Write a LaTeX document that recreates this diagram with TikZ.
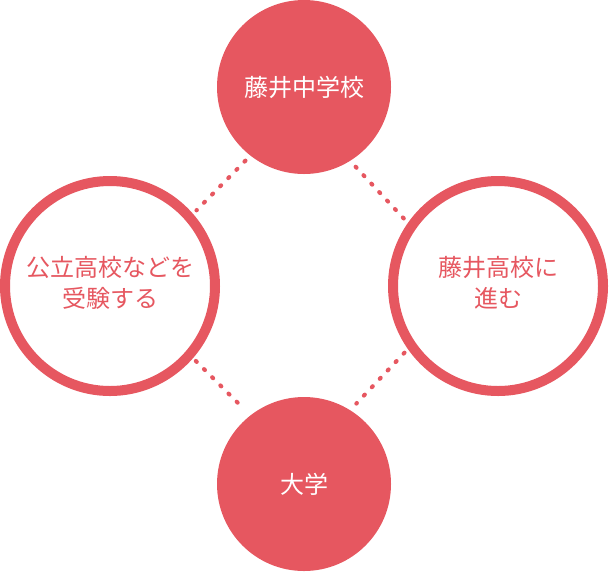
\documentclass[tikz,border=0pt]{standalone}
\usepackage{fontspec}
\newfontfamily\jpfont{Noto Sans CJK JP}
\usepackage{tikz}
\definecolor{sakura}{RGB}{230,87,96}

\begin{document}
\begin{tikzpicture}[
    x=1pt, y=-1pt,
    fullcirc/.style={circle, fill=sakura, minimum size=174pt, inner sep=0pt,
                     text=white, font=\jpfont\fontsize{24}{31}\selectfont, align=center},
    ringcirc/.style={circle, draw=sakura, line width=10pt, fill=white, minimum size=210pt,
                     inner sep=0pt, text=sakura, font=\jpfont\fontsize{24}{31}\selectfont, align=center},
    dotline/.style={draw=sakura, line width=4.2pt, line cap=round, dash pattern=on 1.2pt off 10.35pt}
]
\useasboundingbox (0,0) rectangle (609,571);

% Junior high
\node[fullcirc] (chu) at (304,87) {\raisebox{-3pt}{藤井中学校}};

% Public high school
\node[ringcirc] (kouritsu) at (110,286) {\raisebox{-7pt}{\begin{tabular}{@{}c@{}}公立高校などを\\受験する\end{tabular}}};

% Fujii high school
\node[ringcirc] (kou) at (498,286) {\raisebox{-7pt}{\begin{tabular}{@{}c@{}}藤井高校に\\進む\end{tabular}}};

% University
\node[fullcirc] (daigaku) at (304,484) {\raisebox{-3pt}{大学}};

% Dotted links
\draw[dotline, shorten <=7pt, shorten >=5pt] (chu.232) -- (kouritsu.41);
\draw[dotline, shorten <=8pt, shorten >=5pt] (chu.302) -- (kou.145);
\draw[dotline, shorten <=4pt, shorten >=8pt] (kouritsu.319) -- (daigaku.128);
\draw[dotline, shorten <=5pt, shorten >=9pt] (kou.215) -- (daigaku.58.5);

\end{tikzpicture}
\end{document}
